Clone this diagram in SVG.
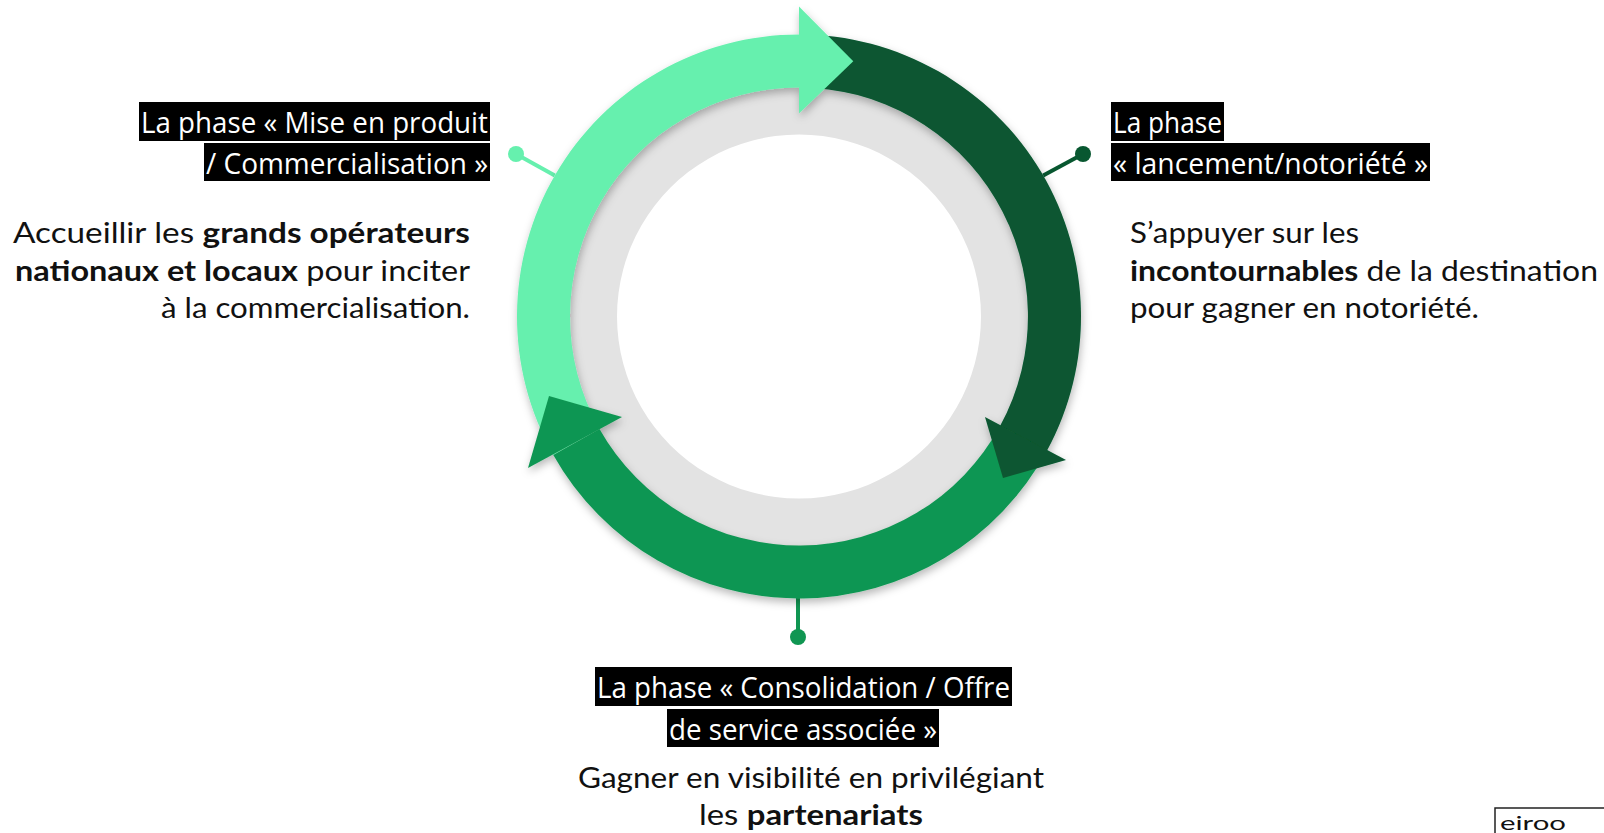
<svg xmlns="http://www.w3.org/2000/svg" width="1604" height="833" viewBox="0 0 1604 833">
  <defs>
    <filter id="shadow" x="-20%" y="-20%" width="140%" height="140%">
      <feDropShadow dx="1" dy="4" stdDeviation="4" flood-color="#000" flood-opacity="0.28"/>
    </filter>
  </defs>
  <style>
    .lbl-box { fill: #000; }
    .lbl { font-family: "Open Sans", "Noto Sans", sans-serif; font-size: 29px; fill: #fff; }
    .body { font-family: Lato, "Open Sans", sans-serif; font-size: 28px; fill: #111; }
    .b { font-weight: 700; }
    .c-light { fill: #66F0AE; }
    .c-dark { fill: #085730; }
    .c-mid { fill: #109652; }
    .ln { stroke-width: 4; fill: none; }
  </style>
  <rect width="1604" height="833" fill="#fff"/>

  <g id="ring">
    <path d="M 799 76.5 A 240 240 0 1 1 798.99 76.5 Z M 799 134.5 A 182 182 0 1 0 799.01 134.5 Z" fill="#E3E3E3" fill-rule="evenodd"/>
  </g>

  <g id="connectors">
    <line x1="554.8" y1="175.5" x2="516" y2="154" stroke="#66F0AE" class="ln"/>
    <circle cx="516" cy="154" r="8" class="c-light"/>
    <line x1="1043.2" y1="175.5" x2="1083" y2="154" stroke="#085730" class="ln"/>
    <circle cx="1083" cy="154" r="8" class="c-dark"/>
    <line x1="798" y1="596" x2="798" y2="637" stroke="#109652" class="ln"/>
    <circle cx="798" cy="637" r="8" class="c-mid"/>
  </g>

  <g id="cycle" filter="url(#shadow)">
    <path id="band-light" class="c-light" d="M 553.3 454.9 A 282 282 0 0 1 799 34.5 L 799 87.5 A 229 229 0 0 0 599.5 428.9 Z"/>
    <path id="band-dark" class="c-dark" d="M 799 34.5 A 282 282 0 0 1 1046.8 451.1 L 1000.2 425.8 A 229 229 0 0 0 799 87.5 Z"/>
    <path id="band-mid" class="c-mid" d="M 1046.8 451.1 A 282 282 0 0 1 553.3 454.9 L 599.5 428.9 A 229 229 0 0 0 1000.2 425.8 Z"/>
    <polygon id="head-light" class="c-light" points="799,6.5 853.3,61.2 799,113.5"/>
    <polygon id="head-dark" class="c-dark" points="1066,460 1003,478 985,417"/>
    <polygon id="head-mid" class="c-mid" points="528,468 549,396 622,417"/>
  </g>

  <g id="phase-commercialisation">
    <rect class="lbl-box" x="139" y="102" width="351" height="39"/>
    <text class="lbl" x="141" y="133" textLength="347" lengthAdjust="spacingAndGlyphs">La phase « Mise en produit</text>
    <rect class="lbl-box" x="204" y="143" width="286" height="38"/>
    <text class="lbl" x="206" y="174" textLength="282" lengthAdjust="spacingAndGlyphs">/ Commercialisation »</text>
    <text class="body" x="13" y="243" textLength="457" lengthAdjust="spacingAndGlyphs">Accueillir les <tspan class="b">grands opérateurs</tspan></text>
    <text class="body" x="15" y="281" textLength="455" lengthAdjust="spacingAndGlyphs"><tspan class="b">nationaux et locaux</tspan> pour inciter</text>
    <text class="body" x="161" y="318" textLength="309" lengthAdjust="spacingAndGlyphs">à la commercialisation.</text>
  </g>

  <g id="phase-lancement">
    <rect class="lbl-box" x="1111" y="102" width="113" height="39"/>
    <text class="lbl" x="1113" y="133" textLength="109" lengthAdjust="spacingAndGlyphs">La phase</text>
    <rect class="lbl-box" x="1111" y="143" width="319" height="38"/>
    <text class="lbl" x="1113" y="174" textLength="315" lengthAdjust="spacingAndGlyphs">« lancement/notoriété »</text>
    <text class="body" x="1130" y="243" textLength="229" lengthAdjust="spacingAndGlyphs">S’appuyer sur les</text>
    <text class="body" x="1130" y="281" textLength="468" lengthAdjust="spacingAndGlyphs"><tspan class="b">incontournables</tspan> de la destination</text>
    <text class="body" x="1130" y="318" textLength="349" lengthAdjust="spacingAndGlyphs">pour gagner en notoriété.</text>
  </g>

  <g id="phase-consolidation">
    <rect class="lbl-box" x="595" y="667" width="417" height="39"/>
    <text class="lbl" x="597" y="698" textLength="413" lengthAdjust="spacingAndGlyphs">La phase « Consolidation / Offre</text>
    <rect class="lbl-box" x="667" y="709" width="272" height="38"/>
    <text class="lbl" x="669" y="740" textLength="268" lengthAdjust="spacingAndGlyphs">de service associée »</text>
    <text class="body" x="578" y="788" textLength="466" lengthAdjust="spacingAndGlyphs">Gagner en visibilité en privilégiant</text>
    <text class="body" x="699" y="825" textLength="224" lengthAdjust="spacingAndGlyphs">les <tspan class="b">partenariats</tspan></text>
  </g>

  <g id="logo">
    <rect x="1495" y="808" width="140" height="60" fill="#fff" stroke="#222" stroke-width="1.5"/>
    <text x="1500" y="830" font-family="Lato, sans-serif" font-size="20" fill="#111" textLength="66" lengthAdjust="spacingAndGlyphs">eiroo</text>
  </g>
</svg>
